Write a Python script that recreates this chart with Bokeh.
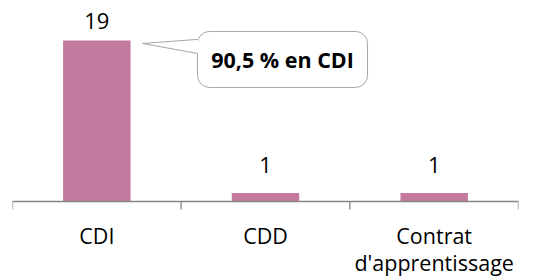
from bokeh.plotting import figure
from bokeh.models import ColumnDataSource, Range1d
from bokeh.core.properties import value
from bokeh.embed import file_html
from bokeh.resources import INLINE

categories = ["CDI", "CDD", "Contrat\nd'apprentissage"]
counts = [19, 1, 1]
callout_text = "90,5 % en CDI"

FONT = "Open Sans"
BAR_COLOR = "#C47A9F"
AXIS_COLOR = "#868686"

PX_PER_UNIT = 161 / 19.0      # vertical scale (pixels per count)
ABOVE_PX, BELOW_PX = 201, 79  # frame space above / below the baseline
y_top = ABOVE_PX / PX_PER_UNIT
y_bottom = -BELOW_PX / PX_PER_UNIT
tick_len = 8 / PX_PER_UNIT

n = len(categories)
xs = [i + 0.5 for i in range(n)]
line1 = [c.split("\n")[0] for c in categories]
line2 = [c.split("\n")[1] if "\n" in c else "" for c in categories]
src = ColumnDataSource(dict(x=xs, top=counts, label=[str(c) for c in counts],
                            yoff=[-20, -28, -28], l1=line1, l2=line2,
                            zero=[0] * n))

p = figure(width=530, height=280, output_backend="svg", toolbar_location=None,
           x_range=Range1d(0, n), y_range=Range1d(y_bottom, y_top),
           x_axis_location=None, y_axis_location=None,
           min_border_left=12, min_border_right=12, min_border_top=0, min_border_bottom=0)
p.grid.visible = False
p.outline_line_color = None
p.background_fill_color = "white"
p.border_fill_color = "white"

p.vbar(x="x", top="top", width=0.4, bottom=0, source=src, fill_color=BAR_COLOR, line_color=None)
p.text(x="x", y="top", text="label", source=src, y_offset="yoff",
       text_align="center", text_baseline="alphabetic",
       text_font=value(FONT), text_font_size="22px", text_color="black")

# category axis: baseline, boundary ticks, labels
bounds = list(range(n + 1))
p.segment(x0=[0], x1=[n], y0=[0], y1=[0], line_color=AXIS_COLOR, line_width=1.3)
p.segment(x0=bounds, x1=bounds, y0=[0] * len(bounds), y1=[-tick_len] * len(bounds),
          line_color=AXIS_COLOR, line_width=1.3)
p.text(x="x", y="zero", text="l1", source=src, y_offset=34,
       text_align="center", text_baseline="alphabetic",
       text_font=value(FONT), text_font_size="21.5px", text_color="black")
p.text(x="x", y="zero", text="l2", source=src, y_offset=61,
       text_align="center", text_baseline="alphabetic",
       text_font=value(FONT), text_font_size="21.5px", text_color="black")

# callout
bx0, bx1, by0, by1 = 1.097, 2.105, 13.46, 20.07
tip = (0.771, 18.65)
base = [(1.097, 19.13), (1.097, 17.47)]
p.quad(left=[bx0], right=[bx1], bottom=[by0], top=[by1], fill_color="white",
       line_color="#A6A6A6", line_width=1, border_radius=12)
p.patch(x=[base[0][0] + 0.004, tip[0], base[1][0] + 0.004], y=[base[0][1], tip[1], base[1][1]],
        fill_color="white", line_color=None)
p.line(x=[base[0][0], tip[0], base[1][0]], y=[base[0][1], tip[1], base[1][1]],
       line_color="#A6A6A6", line_width=1)
p.text(x=[(bx0 + bx1) / 2], y=[(by0 + by1) / 2], text=[callout_text],
       text_align="center", text_baseline="middle", text_font=value(FONT),
       text_font_size="21.5px", text_font_style="bold", text_color="black")

open("out.html", "w").write(file_html(p, INLINE))
